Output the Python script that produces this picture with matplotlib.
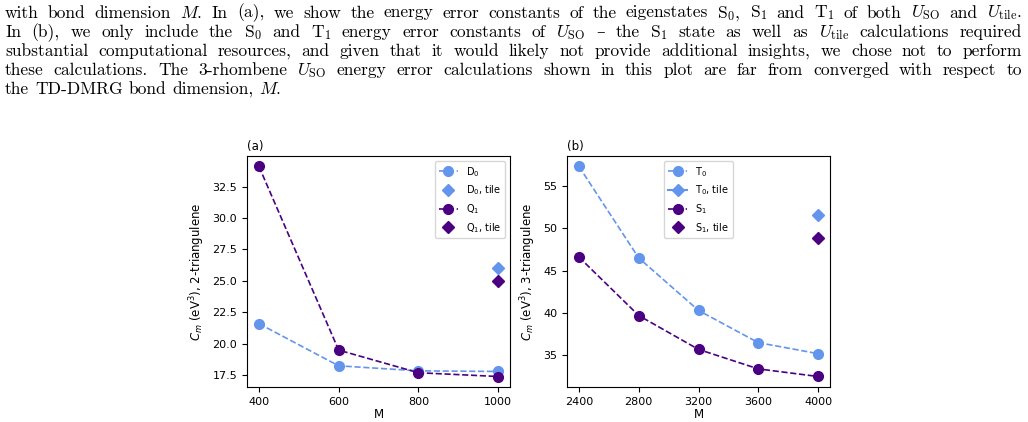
import matplotlib
matplotlib.use("Agg")
import matplotlib.pyplot as plt

# panel (a): 2-triangulene
m_a = [400, 600, 800, 1000]
d0 = [21.6, 18.25, 17.85, 17.8]
q1 = [34.1, 19.5, 17.7, 17.4]
m_tile_a = [1000]
d0_tile = [26.0]
q1_tile = [25.0]

# panel (b): 3-triangulene
m_b = [2400, 2800, 3200, 3600, 4000]
t0 = [57.3, 46.5, 40.3, 36.5, 35.2]
s1 = [46.6, 39.7, 35.7, 33.4, 32.5]
m_tile_b = [4000]
t0_tile = [51.6]
s1_tile = [48.9]

caption_lines = [
    r"with bond dimension $M$. In (a), we show the energy error constants of the eigenstates $\mathrm{S}_0$, $\mathrm{S}_1$ and $\mathrm{T}_1$ of both $U_\mathrm{SO}$ and $U_\mathrm{tile}$.",
    r"In (b), we only include the $\mathrm{S}_0$ and $\mathrm{T}_1$ energy error constants of $U_\mathrm{SO}$ – the $\mathrm{S}_1$ state as well as $U_\mathrm{tile}$ calculations required",
    r"substantial computational resources, and given that it would likely not provide additional insights, we chose not to perform",
    r"these calculations. The 3-rhombene $U_\mathrm{SO}$ energy error calculations shown in this plot are far from converged with respect to",
    r"the TD-DMRG bond dimension, $M$.",
]

light = "#6495ED"
dark = "#4B0082"

W, H = 1028, 422
fig = plt.figure(figsize=(W / 100, H / 100), dpi=100)
renderer = fig.canvas.get_renderer()

CAP_FONT = ["cmr10", "DejaVu Serif"]
X0, X1 = 5, 1022

# pick the caption size from the plain third line (a bit under full width,
# the page font is narrower than cmr10)
probe = fig.text(0, 0, caption_lines[2], fontsize=10, family=CAP_FONT)
FS = 0.93 * 10 * (X1 - X0) / probe.get_window_extent(renderer).width
probe.remove()

# caption text, justified word by word like the LaTeX page
for i, line in enumerate(caption_lines):
    y = 17.5 + 19.2 * i
    words = line.split(" ")
    texts = [fig.text(0, 1 - y / H, w, fontsize=FS, family=CAP_FONT,
                      math_fontfamily="cm", va="baseline") for w in words]
    widths = [t.get_window_extent(renderer).width for t in texts]
    if i < len(caption_lines) - 1:
        gap = (X1 - X0 - sum(widths)) / (len(words) - 1)
    else:
        gap = FS * 0.333 * 100 / 72
    x = X0
    for t, w in zip(texts, widths):
        t.set_x(x / W)
        x += w + gap

ax1 = fig.add_axes([247 / W, 1 - 387 / H, 263 / W, 231 / H])
ax2 = fig.add_axes([567 / W, 1 - 387 / H, 263 / W, 231 / H])

ax1.plot(m_a, d0, "--o", color=light, ms=7, lw=1.2, label="D$_0$")
ax1.plot(m_tile_a, d0_tile, "D", color=light, ms=6.5, label="D$_0$, tile")
ax1.plot(m_a, q1, "--o", color=dark, ms=7, lw=1.2, label="Q$_1$")
ax1.plot(m_tile_a, q1_tile, "D", color=dark, ms=6.5, label="Q$_1$, tile")
ax1.set_xticks(m_a)
ax1.set_xlabel("M", fontsize=8.5, labelpad=1)
ax1.set_ylabel("$C_m$ (eV$^3$), 2-triangulene", fontsize=8.5)
ax1.set_title("(a)", loc="left", fontsize=8.5, pad=4)
ax1.legend(loc="upper right", fontsize=7)

ax2.plot(m_b, t0, "--o", color=light, ms=7, lw=1.2, label="T$_0$")
ax2.plot(m_tile_b, t0_tile, "-D", color=light, ms=6.5, label="T$_0$, tile")
ax2.plot(m_b, s1, "--o", color=dark, ms=7, lw=1.2, label="S$_1$")
ax2.plot(m_tile_b, s1_tile, "D", color=dark, ms=6.5, label="S$_1$, tile")
ax2.set_xticks(m_b)
ax2.set_xlabel("M", fontsize=8.5, labelpad=1)
ax2.set_ylabel("$C_m$ (eV$^3$), 3-triangulene", fontsize=8.5)
ax2.set_title("(b)", loc="left", fontsize=8.5, pad=4)
ax2.legend(loc="upper center", fontsize=7)

for ax in (ax1, ax2):
    ax.tick_params(labelsize=8)

fig.savefig("out.png", dpi=100)
